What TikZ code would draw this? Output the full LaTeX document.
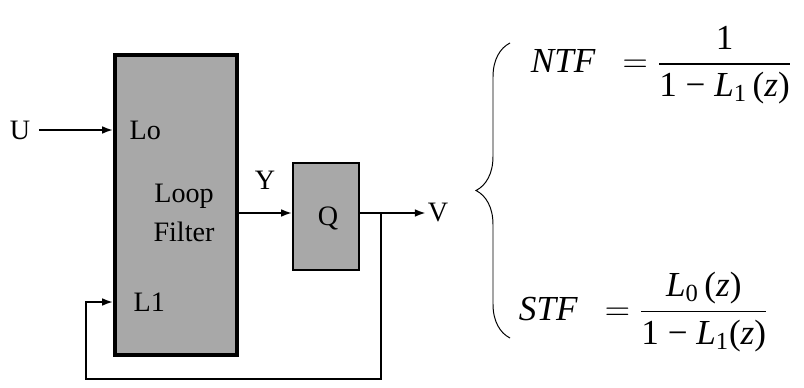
\documentclass[tikz,border=0pt]{standalone}
\usepackage{amsmath, amssymb}
\usepackage{fontspec}
\setmainfont{Liberation Serif}
\usepackage{tikz}
\usetikzlibrary{arrows.meta,calc,positioning,decorations.pathreplacing}
\definecolor{boxgray}{RGB}{168,168,168}
\newcommand{\vi}[1]{\text{\itshape #1}}

\begin{document}
\begin{tikzpicture}[x=0.025cm,y=-0.025cm,
    blk/.style={draw,fill=boxgray,inner sep=0pt},
    lbl/.style={font=\fontsize{20}{28}\selectfont,inner sep=1pt},
    sig/.style={-{Latex[length=8pt,width=5.5pt]},line width=1.6pt},
    eq/.style={font=\fontsize{25}{30}\selectfont}]
\useasboundingbox (0,0) rectangle (804,388);
\node[blk,line width=2.2pt,minimum width=3.05cm,minimum height=7.5cm] (filter) at (176,205) {};
\node[blk,line width=0.8pt,minimum width=1.65cm,minimum height=2.675cm] (q) at (326,216.5) {};
\node[lbl,align=center] (loopf) at (184,213) {Loop\\Filter};
\node[lbl] (qlbl) at (328,218) {Q};
\node[lbl,anchor=west] (lo) at (128,130) {Lo};
\node[lbl,anchor=west] (li) at (132,302) {L1};
\node[lbl] (u) at (20,130) {U};
\node[lbl] (y) at (265,180) {Y};
\node[lbl] (v) at (438,213) {V};
\coordinate (tap) at (381,213);
\coordinate (fbr) at (381,379);
\coordinate (fbl) at (86,379);
\draw[sig,shorten <=5pt] (u) -- (filter.west |- lo);
\draw[sig] (filter.east |- tap) -- (q.west |- tap);
\draw[sig] (q.east |- tap) -- (v.west);
\draw[sig] (tap) -- (fbr) -- (fbl) |- (filter.west |- li);
\draw[line width=0.7pt,decorate,decoration={brace,amplitude=0.85cm}] (510,338) -- (510,43);
\node[eq,anchor=west] (ntf) at (526,65)
  {$\vi{NTF}\ \ =\dfrac{\text{1}}{\text{1 − }\vi{L}_{\text{1}}\,\text{(\itshape z\upshape)}}$};
\node[eq,anchor=west] (stf) at (514,312)
  {$\vi{STF}\ \ =\dfrac{\vi{L}_{\text{0}}\,\text{(\itshape z\upshape)}}{\text{1 − }\vi{L}_{\text{1}}\text{(\itshape z\upshape)}}$};
\end{tikzpicture}
\end{document}
